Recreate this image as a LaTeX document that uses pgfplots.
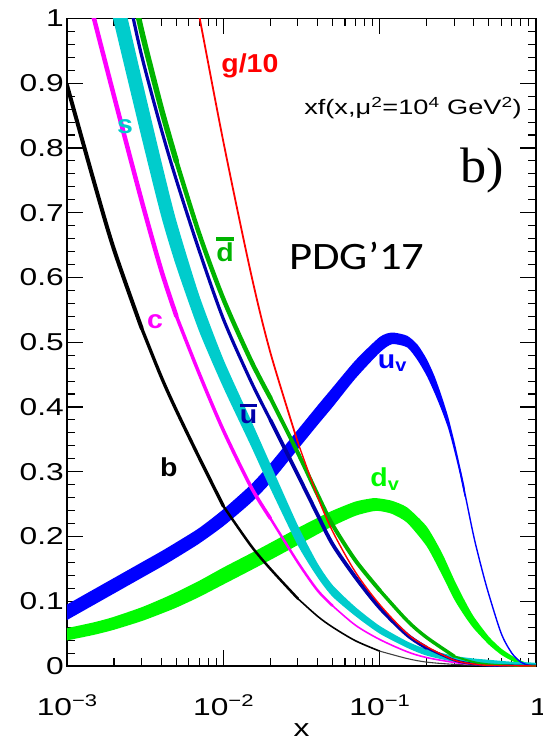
\documentclass[border=0pt]{standalone}
\usepackage{fontspec}
\setmainfont{Liberation Sans}[FakeStretch=1.3]
\newfontfamily\labf{Liberation Sans}[FakeStretch=1.1]
\newfontfamily\serifb{Liberation Serif}[FakeStretch=1.05]
\newfontfamily\calib{Carlito}[FakeStretch=1.15]
\usepackage{pgfplots}
\pgfplotsset{compat=1.18}
\definecolor{cyanS}{RGB}{0,204,204}
\definecolor{navyU}{RGB}{0,0,170}
\definecolor{greenD}{RGB}{0,180,0}
\definecolor{greenV}{RGB}{0,250,0}
\definecolor{blueV}{RGB}{0,0,255}
\definecolor{magC}{RGB}{255,0,255}
\definecolor{redG}{RGB}{255,0,0}
\newcommand{\ex}[1]{\raisebox{9bp}{\fontsize{17}{17}\selectfont #1}}
\newcommand{\barlet}[1]{\sbox0{#1}\rlap{\rule[\dimexpr\ht0+0.1em\relax]{\wd0}{0.12em}}\usebox0}
\newcommand{\lab}{\labf\fontsize{26}{26}\selectfont\bfseries}
\begin{document}
\begin{tikzpicture}
\useasboundingbox (-67bp,-74bp) rectangle (476bp,666bp);
\begin{axis}[
  at={(0,0)}, anchor=south west,
  scale only axis, width=469bp, height=647.5bp,
  xmode=log, xmin=0.001, xmax=1, ymin=0, ymax=1,
  xtick={0.001,0.01,0.1,1},
  xticklabels={10\ex{−3},10\ex{−2},10\ex{−1},\makebox[12bp][l]{1}},
  minor xtick={0.002,0.003,0.004,0.005,0.006,0.007,0.008,0.009,0.02,0.03,0.04,0.05,0.06,0.07,0.08,0.09,0.2,0.3,0.4,0.5,0.6,0.7,0.8,0.9},
  ytick={0,0.1,0.2,0.3,0.4,0.5,0.6,0.7,0.8,0.9,1},
  yticklabels={0,0.1,0.2,0.3,0.4,0.5,0.6,0.7,0.8,0.9,1},
  minor ytick={0.02,0.04,0.06,0.08,0.12,0.14,0.16,0.18,0.22,0.24,0.26,0.28,0.32,0.34,0.36,0.38,0.42,0.44,0.46,0.48,0.52,0.54,0.56,0.58,0.62,0.64,0.66,0.68,0.72,0.74,0.76,0.78,0.82,0.84,0.86,0.88,0.92,0.94,0.96,0.98},
  tick align=inside,
  major tick length=16bp, minor tick length=8bp,
  every tick/.style={black, line width=1.1bp},
  axis line style={line width=1.2bp},
  tick label style={font=\fontsize{24.5}{24.5}\selectfont},
  xticklabel style={anchor=base, yshift=-49bp, inner sep=0pt},
  yticklabel style={anchor=east, xshift=-3bp, inner sep=0pt},
  xlabel={x},
  xlabel style={font=\fontsize{24.5}{24.5}\selectfont, at={(axis description cs:0.5,0)}, anchor=base, yshift=-70bp, inner sep=0pt},
  every axis plot/.append style={line cap=round, line join=round},
]
% ---------- u_v band (upper edge, then lower edge reversed) ----------
\addplot[fill=blueV, draw=none, smooth, tension=0.4] coordinates {(0.001,0.095)(0.0015,0.119)(0.002,0.136)(0.003,0.160)(0.004,0.177)(0.005,0.191)(0.007,0.213)(0.01,0.242)(0.015,0.280)(0.02,0.313)(0.03,0.365)(0.04,0.402)(0.05,0.430)(0.07,0.472)(0.1,0.508)(0.12,0.515)(0.15,0.510)(0.175,0.496)(0.2,0.474)(0.225,0.447)(0.25,0.416)(0.275,0.384)(0.3,0.348)(0.325,0.311)(0.35,0.275)
(0.35,0.261)(0.325,0.297)(0.3,0.332)(0.275,0.366)(0.25,0.394)(0.225,0.421)(0.2,0.448)(0.175,0.472)(0.15,0.492)(0.12,0.497)(0.1,0.484)(0.07,0.444)(0.05,0.400)(0.04,0.372)(0.03,0.335)(0.02,0.283)(0.015,0.252)(0.01,0.216)(0.007,0.189)(0.005,0.167)(0.004,0.153)(0.003,0.136)(0.002,0.112)(0.0015,0.095)(0.001,0.071)} -- cycle;
% ---------- d_v band ----------
\addplot[fill=greenV, draw=none, smooth, tension=0.4] coordinates {(0.001,0.0585)(0.0015,0.0677)(0.002,0.076)(0.003,0.0907)(0.004,0.1033)(0.005,0.1139)(0.007,0.1315)(0.01,0.1521)(0.015,0.1741)(0.02,0.1902)(0.03,0.2132)(0.04,0.2287)(0.05,0.240)(0.07,0.254)(0.09,0.2591)(0.1,0.2587)(0.12,0.2551)(0.15,0.2448)(0.2,0.2153)(0.25,0.1749)(0.3,0.1332)(0.35,0.101)(0.4,0.0762)(0.5,0.0451)(0.6,0.0268)(0.7,0.0159)(0.8,0.0083)(0.9,0.0042)(1,0.0023)
(1,-0.0023)(0.9,-0.0012)(0.8,0.0017)(0.7,0.0081)(0.6,0.0172)(0.5,0.0329)(0.4,0.0578)(0.35,0.077)(0.3,0.1028)(0.25,0.1411)(0.2,0.1847)(0.15,0.2212)(0.12,0.2349)(0.1,0.2393)(0.09,0.2389)(0.07,0.232)(0.05,0.216)(0.04,0.2033)(0.03,0.1868)(0.02,0.1638)(0.015,0.1479)(0.01,0.1259)(0.007,0.1065)(0.005,0.0901)(0.004,0.0807)(0.003,0.0693)(0.002,0.056)(0.0015,0.0483)(0.001,0.0395)} -- cycle;
% ---------- s band ----------
\addplot[fill=cyanS, draw=none, smooth, tension=0.4] coordinates {(0.0018,1.138)(0.002,1.091)(0.003,0.908)(0.004,0.781)(0.005,0.688)(0.007,0.573)(0.01,0.474)(0.015,0.380)(0.02,0.312)(0.03,0.217)(0.04,0.159)(0.05,0.125)(0.07,0.091)(0.1,0.062)(0.15,0.038)(0.2,0.026)(0.3,0.0157)(0.4,0.0116)(0.5,0.0096)(0.7,0.0066)(1,0.0046)
(1,-0.0046)(0.7,-0.0026)(0.5,0.0004)(0.4,0.0024)(0.3,0.0063)(0.2,0.016)(0.15,0.028)(0.1,0.050)(0.07,0.077)(0.05,0.107)(0.04,0.137)(0.03,0.186)(0.02,0.274)(0.015,0.340)(0.01,0.430)(0.007,0.517)(0.005,0.617)(0.004,0.695)(0.003,0.816)(0.002,0.993)(0.0018,1.040)} -- cycle;
% ---------- u_v thin tail ----------
\addplot[blueV, line width=1.4bp, smooth, tension=0.5] coordinates {(0.325,0.304)(0.35,0.268)(0.4,0.200)(0.45,0.150)(0.5,0.110)(0.6,0.050)(0.7,0.020)(0.8,0.006)(0.9,0.0012)(1,0)};
% ---------- b ----------
\addplot[black, line width=4bp, smooth, tension=0.5] coordinates {(0.001,0.897)(0.0015,0.745)(0.002,0.643)(0.003,0.522)};
\addplot[black, line width=3.3bp, smooth, tension=0.5] coordinates {(0.003,0.522)(0.004,0.447)(0.005,0.395)(0.007,0.322)(0.01,0.247)};
\addplot[black, line width=2.5bp, smooth, tension=0.5] coordinates {(0.01,0.247)(0.015,0.186)(0.02,0.150)(0.03,0.104)};
\addplot[black, line width=1.6bp, smooth, tension=0.5] coordinates {(0.03,0.104)(0.04,0.077)(0.05,0.060)(0.07,0.039)(0.1,0.023)};
\addplot[black!75, line width=1.1bp, smooth, tension=0.5] coordinates {(0.1,0.023)(0.15,0.0115)(0.2,0.006)(0.3,0.0025)(0.5,0.0007)(1,0)};
% ---------- c ----------
\addplot[magC, line width=4.5bp, smooth, tension=0.5] coordinates {(0.0014,1.025)(0.002,0.880)(0.003,0.719)(0.004,0.612)(0.005,0.541)};
\addplot[magC, line width=3.5bp, smooth, tension=0.5] coordinates {(0.005,0.541)(0.007,0.452)(0.01,0.364)(0.015,0.277)(0.02,0.228)};
\addplot[magC, line width=2.5bp, smooth, tension=0.5] coordinates {(0.02,0.228)(0.03,0.160)(0.04,0.117)(0.05,0.093)};
\addplot[magC, line width=1.6bp, smooth, tension=0.5] coordinates {(0.05,0.093)(0.07,0.063)(0.1,0.041)(0.15,0.022)(0.2,0.013)(0.3,0.0055)(0.4,0.0025)(0.6,0.0005)(1,0)};
% ---------- ubar ----------
\addplot[navyU, line width=3.2bp, smooth, tension=0.5] coordinates {(0.0025,1.030)(0.003,0.943)(0.004,0.830)(0.005,0.751)(0.007,0.642)(0.01,0.536)(0.015,0.440)(0.02,0.380)};
\addplot[navyU, line width=3.8bp, smooth, tension=0.5] coordinates {(0.02,0.380)(0.03,0.295)(0.04,0.234)(0.05,0.188)(0.07,0.137)(0.1,0.090)(0.15,0.048)(0.2,0.028)};
\addplot[navyU, line width=2.5bp, smooth, tension=0.5] coordinates {(0.2,0.028)(0.3,0.009)(0.4,0.003)(0.5,0.001)(1,0)};
% ---------- dbar ----------
\addplot[greenD, line width=5.5bp, smooth, tension=0.5] coordinates {(0.0025,1.07)(0.003,0.981)(0.004,0.862)(0.005,0.780)};
\addplot[greenD, line width=4.5bp, smooth, tension=0.5] coordinates {(0.005,0.780)(0.007,0.668)(0.01,0.567)(0.015,0.472)(0.02,0.414)};
\addplot[greenD, line width=4bp, smooth, tension=0.5] coordinates {(0.02,0.414)(0.03,0.329)(0.04,0.265)(0.05,0.218)(0.07,0.163)(0.1,0.117)};
\addplot[greenD, line width=3.5bp, smooth, tension=0.5] coordinates {(0.1,0.117)(0.15,0.070)(0.2,0.044)(0.3,0.015)};
\addplot[greenD, line width=2bp, smooth, tension=0.5] coordinates {(0.3,0.015)(0.4,0.006)(0.5,0.0025)(0.7,0.0005)(1,0)};
% ---------- g/10 ----------
\addplot[redG, line width=1.8bp, smooth, tension=0.5] coordinates {(0.0068,1.018)(0.007,1.005)(0.01,0.810)(0.015,0.607)(0.02,0.484)(0.03,0.345)};
\addplot[redG, line width=1.4bp, smooth, tension=0.5] coordinates {(0.03,0.345)(0.04,0.262)(0.05,0.208)(0.07,0.145)(0.1,0.095)(0.15,0.050)(0.2,0.030)(0.3,0.009)(0.4,0.003)(0.5,0.001)(1,0)};
% ---------- labels ----------
\node[anchor=base, text=redG, font=\lab] at (rel axis cs:0.390,0.917) {g/10};
\node[anchor=base, text=cyanS, font=\lab] at (rel axis cs:0.124,0.823) {s};
\node[anchor=base, text=greenD, font=\lab] at (rel axis cs:0.337,0.624) {\barlet{d}};
\node[anchor=base, text=magC, font=\lab] at (rel axis cs:0.188,0.522) {c};
\node[anchor=base, text=navyU, font=\lab] at (rel axis cs:0.387,0.375) {\barlet{u}};
\node[anchor=base, text=black, font=\lab] at (rel axis cs:0.217,0.292) {b};
\node[anchor=base, text=blueV, font=\lab] at (rel axis cs:0.694,0.460) {u\textsubscript{v}};
\node[anchor=base, text=greenV, font=\lab] at (rel axis cs:0.678,0.277) {d\textsubscript{v}};
\node[anchor=base east, font=\fontsize{21}{21}\selectfont, inner sep=0pt] at (rel axis cs:0.970,0.851) {xf(x,μ\textsuperscript{2}=10\textsuperscript{4} GeV\textsuperscript{2})};
\node[anchor=base, font=\serifb\fontsize{50}{50}\selectfont, inner sep=0pt] at (rel axis cs:0.885,0.747) {b)};
\node[anchor=base, font=\calib\fontsize{39}{39}\selectfont, inner sep=0pt] at (rel axis cs:0.618,0.612) {PDG’17};
\end{axis}
\end{tikzpicture}
\end{document}
